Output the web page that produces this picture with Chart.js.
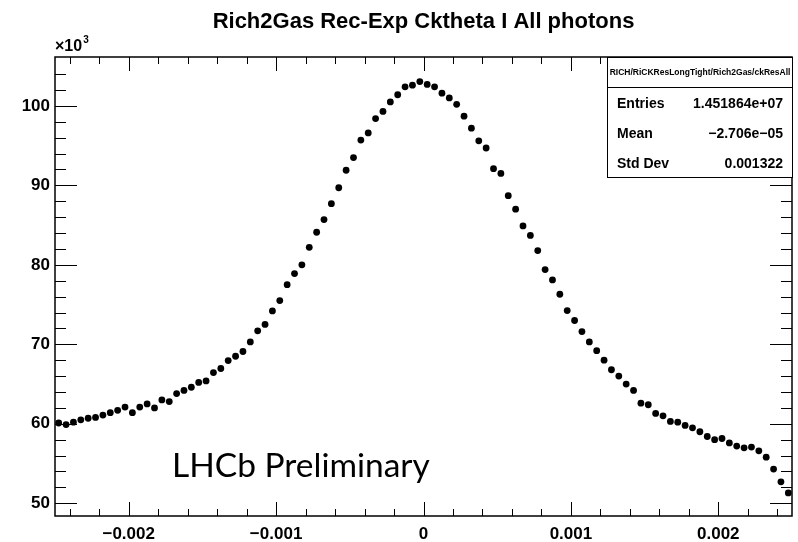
<!DOCTYPE html>
<html lang="en">
<head>
<meta charset="UTF-8">
<title>Rich2Gas Rec-Exp Cktheta I All photons</title>
<script src="https://cdn.jsdelivr.net/npm/chart.js@4.4.0/dist/chart.umd.min.js"></script>
<style>
    body { margin: 0; background: #fff; }
    canvas { display: block; }
</style>
</head>
<body>
<canvas id="hist" width="798" height="542"></canvas>
<script>
// histogram binning
const xLow = -0.0025;
const xHigh = 0.0025;
const nBins = 100;
const yLow = 48.4;
const yHigh = 106.15;

// bin contents (units of 10^3 entries)
const counts = [
    60.1, 59.9, 60.2, 60.5, 60.7, 60.8, 61.1, 61.4, 61.7, 62.1,
    61.4, 62.1, 62.5, 62.0, 63.0, 62.8, 63.8, 64.2, 64.6, 65.2,
    65.4, 66.45, 66.96, 67.96, 68.5, 69.1, 70.3, 71.7, 72.5, 74.2,
    75.5, 77.5, 78.9, 80.0, 82.2, 84.1, 85.7, 87.7, 89.7, 91.9,
    93.5, 95.7, 96.6, 98.4, 99.3, 100.5, 101.4, 102.4, 102.6, 103.06,
    102.7, 102.4, 101.6, 101.0, 100.2, 98.7, 97.2, 95.6, 94.7, 92.1,
    91.5, 88.7, 87.0, 84.9, 83.7, 81.8, 79.4, 78.1, 76.3, 74.25,
    73.0, 71.6, 70.3, 69.2, 68.0, 66.8, 66.0, 65.0, 64.2, 62.6,
    62.4, 61.3, 61.0, 60.3, 60.2, 59.8, 59.5, 59.0, 58.4, 58.0,
    58.15, 57.6, 57.2, 56.98, 57.07, 56.6, 55.8, 54.3, 52.7, 51.3
];

const xTicks = [-0.002, -0.001, 0, 0.001, 0.002];
const yTicks = [50, 60, 70, 80, 90, 100];

const titleText = 'Rich2Gas Rec-Exp Cktheta I All photons';
const statsName = 'RICH/RiCKResLongTight/Rich2Gas/ckResAll';
const statsLabels = ['Entries', 'Mean', 'Std Dev'];
const statsValues = ['1.451864e+07', '\u22122.706e\u221205', '0.001322'];
const watermark = 'LHCb Preliminary';

const binWidth = (xHigh - xLow) / nBins;
const points = counts.map((c, i) => ({ x: xLow + (i + 0.5) * binWidth, y: c }));

const FONT = '"Liberation Sans", Arial, Helvetica, sans-serif';

function fmtX(v) {
    if (Math.abs(v) < 1e-9) return '0';
    return v.toFixed(3).replace('-', '\u2212');
}

// ROOT-like frame, ticks on all four sides, title, stats box, watermark
const rootDecor = {
    id: 'rootDecor',
    afterDraw(chart) {
        const ctx = chart.ctx;
        const a = chart.chartArea;
        const xs = chart.scales.x;
        const ys = chart.scales.y;
        ctx.save();
        ctx.strokeStyle = '#000';
        ctx.fillStyle = '#000';

        // ticks
        ctx.lineWidth = 1;
        ctx.beginPath();
        for (let k = -24; k <= 24; k += 2) {
            const px = Math.round(xs.getPixelForValue(k * 0.0001)) + 0.5;
            const len = (k % 10 === 0) ? 14 : 7;
            ctx.moveTo(px, a.bottom); ctx.lineTo(px, a.bottom - len);
            ctx.moveTo(px, a.top); ctx.lineTo(px, a.top + len);
        }
        for (let v = 50; v <= 104; v += 2) {
            const py = Math.round(ys.getPixelForValue(v)) + 0.5;
            const len = (v % 10 === 0) ? 22 : 11;
            ctx.moveTo(a.left, py); ctx.lineTo(a.left + len, py);
            ctx.moveTo(a.right, py); ctx.lineTo(a.right - len, py);
        }
        ctx.stroke();

        // frame
        ctx.lineWidth = 1.5;
        ctx.strokeRect(a.left, a.top, a.right - a.left, a.bottom - a.top);

        // title
        ctx.font = 'bold 22px ' + FONT;
        ctx.textAlign = 'center';
        ctx.textBaseline = 'middle';
        ctx.fillText(titleText, (a.left + a.right) / 2, 22);

        // exponent label
        ctx.textAlign = 'left';
        ctx.textBaseline = 'alphabetic';
        ctx.font = 'bold 16px ' + FONT;
        ctx.fillText('\u00d710', a.left, 51);
        const w10 = ctx.measureText('\u00d710').width;
        ctx.font = 'bold 10px ' + FONT;
        ctx.fillText('3', a.left + w10 + 1, 43);

        // stats box
        const bx = 607.5, by = 57.5, bw = 185, bh = 120;
        ctx.fillStyle = '#fff';
        ctx.fillRect(bx, by, bw, bh);
        ctx.fillStyle = '#000';
        ctx.lineWidth = 1;
        ctx.strokeRect(bx, by, bw, bh);
        ctx.beginPath();
        ctx.moveTo(bx, by + 30); ctx.lineTo(bx + bw, by + 30);
        ctx.stroke();
        ctx.font = 'bold 10px ' + FONT;
        const nameSize = 10 * 181 / ctx.measureText(statsName).width;
        ctx.font = 'bold ' + nameSize.toFixed(2) + 'px ' + FONT;
        ctx.textAlign = 'center';
        ctx.textBaseline = 'middle';
        ctx.fillText(statsName, bx + bw / 2, by + 15);
        ctx.font = 'bold 14px ' + FONT;
        statsLabels.forEach((lab, i) => {
            const ty = 104 + i * 30;
            ctx.textAlign = 'left';
            ctx.fillText(lab, 617, ty);
            ctx.textAlign = 'right';
            ctx.fillText(statsValues[i], 783, ty);
        });

        // watermark
        ctx.textAlign = 'left';
        ctx.textBaseline = 'alphabetic';
        ctx.font = '33.5px Lato, "Open Sans", sans-serif';
        ctx.fillText(watermark, 172, 477);

        ctx.restore();
    }
};

new Chart(document.getElementById('hist'), {
    type: 'scatter',
    data: {
        datasets: [{
            label: 'ckResAll',
            data: points,
            pointRadius: 3.4,
            pointHoverRadius: 3.4,
            pointBackgroundColor: '#000',
            pointBorderWidth: 0,
            showLine: false
        }]
    },
    options: {
        responsive: false,
        animation: false,
        events: [],
        layout: { padding: { top: 57, right: 6, left: 0, bottom: 0 } },
        plugins: {
            legend: { display: false },
            tooltip: { enabled: false },
            title: { display: false }
        },
        scales: {
            x: {
                type: 'linear',
                min: xLow,
                max: xHigh,
                afterBuildTicks: s => { s.ticks = xTicks.map(v => ({ value: v })); },
                afterFit: s => { s.height = 26; },
                grid: { display: false, drawTicks: false },
                border: { display: false },
                ticks: {
                    padding: 8,
                    color: '#000',
                    font: { family: FONT, size: 17, weight: 'bold' },
                    callback: v => fmtX(v)
                }
            },
            y: {
                type: 'linear',
                min: yLow,
                max: yHigh,
                afterBuildTicks: s => { s.ticks = yTicks.map(v => ({ value: v })); },
                afterFit: s => { s.width = 55; },
                grid: { display: false, drawTicks: false },
                border: { display: false },
                ticks: {
                    padding: 5,
                    color: '#000',
                    font: { family: FONT, size: 17, weight: 'bold' },
                    callback: v => String(v)
                }
            }
        }
    },
    plugins: [rootDecor]
});
</script>
</body>
</html>
